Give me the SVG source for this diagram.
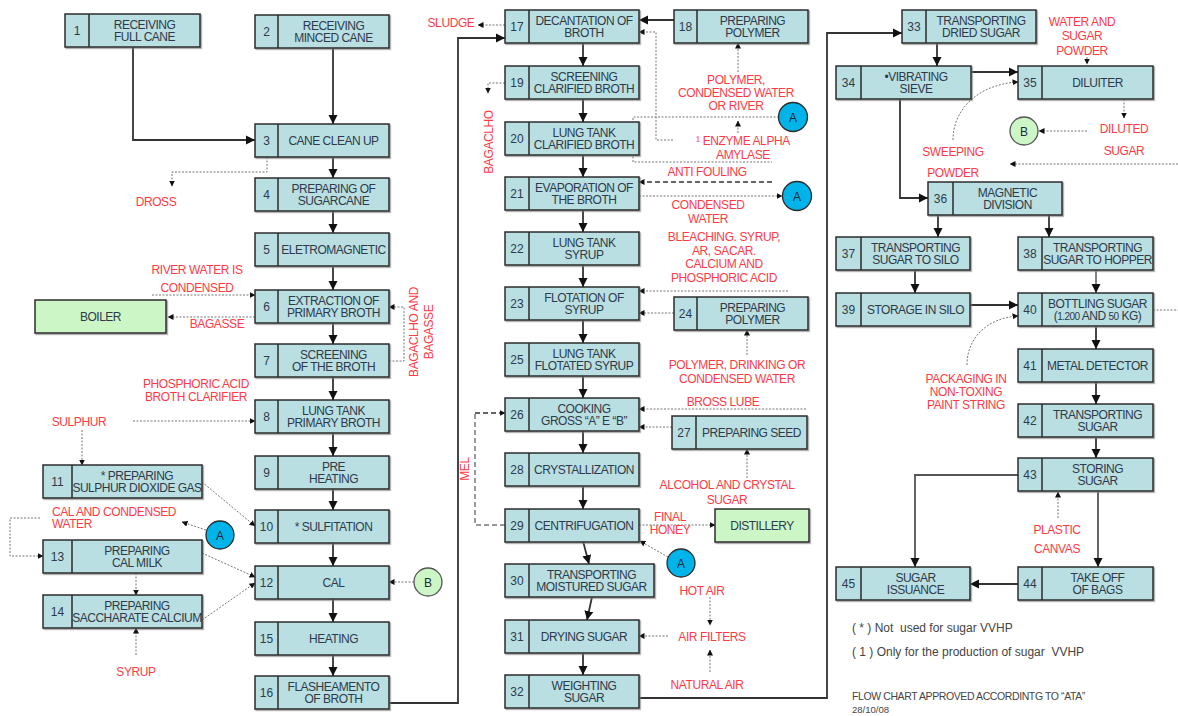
<svg xmlns="http://www.w3.org/2000/svg" width="1178" height="716" viewBox="0 0 1178 716">
<defs>
<marker id="ah" markerUnits="userSpaceOnUse" markerWidth="10" markerHeight="10" refX="9" refY="5" orient="auto"><path d="M0,0.5 L9,5 L0,9.5 z" fill="#111"/></marker>
<marker id="sh" markerUnits="userSpaceOnUse" markerWidth="6" markerHeight="6" refX="5.5" refY="3" orient="auto"><path d="M0,0 L6,3 L0,6 z" fill="#111"/></marker>
<filter id="sd" x="-5%" y="-10%" width="110%" height="130%"><feDropShadow dx="1.2" dy="1.2" stdDeviation="0.6" flood-color="#777" flood-opacity="0.7"/></filter>
<style>
.box{fill:#b9dfe2;stroke:#2b2b2b;stroke-width:1.5;filter:url(#sd)}
.gr{fill:#cdf6c6;stroke:#2b2b2b;stroke-width:1.5;filter:url(#sd)}
.dv{stroke:#2b2b2b;stroke-width:1.5}
text{font-family:"Liberation Sans",Arial,sans-serif}
.t{font-size:12px;fill:#2e3a4a;text-anchor:middle;letter-spacing:-0.5px}
.n{font-size:12px;fill:#2e3a4a;text-anchor:middle}
.r{font-size:12px;fill:#ff3a46;text-anchor:middle;letter-spacing:-0.4px}
.rl{font-size:12px;fill:#ff3a46;letter-spacing:-0.4px}
.lg{font-size:12px;fill:#444;white-space:pre}
.s{stroke:#333;stroke-width:1.8;fill:none;marker-end:url(#ah)}
.d{stroke:#777;stroke-width:1;stroke-dasharray:2 1.5;fill:none;marker-end:url(#sh)}
.d0{stroke:#777;stroke-width:1;stroke-dasharray:2 1.5;fill:none}
.dk{stroke:#333;stroke-width:1.3;stroke-dasharray:5 3;fill:none;marker-end:url(#sh)}
.dg{stroke:#999;stroke-width:2;stroke-dasharray:5 3;fill:none}
.ca{fill:#00b4ea;stroke:#2b2b2b;stroke-width:1.3}
.cb{fill:#cdf6c6;stroke:#555;stroke-width:1.3}
.ct{font-size:12px;fill:#1e2a3a;text-anchor:middle}
</style>
</defs>
<rect width="1178" height="716" fill="#fff"/>

<g id="connectors">
<path class="s" d="M133,47 V140 H255"/>
<path class="s" d="M333,48 V124"/>
<path class="s" d="M333,157 V178"/>
<path class="s" d="M333,211 V233"/>
<path class="s" d="M333,267 V290"/>
<path class="s" d="M333,323 V344"/>
<path class="s" d="M333,377 V400"/>
<path class="s" d="M333,433 V456"/>
<path class="s" d="M333,489 V510"/>
<path class="s" d="M333,543 V566"/>
<path class="s" d="M333,599 V622"/>
<path class="s" d="M333,655 V676"/>
<path class="s" d="M389,703 H458 V38 H505"/>
<path class="s" d="M583,43 V66"/>
<path class="s" d="M583,99 V122"/>
<path class="s" d="M583,155 V177"/>
<path class="s" d="M583,210 V232"/>
<path class="s" d="M583,265 V287"/>
<path class="s" d="M583,320 V343"/>
<path class="s" d="M583,376 V398"/>
<path class="s" d="M583,431 V453"/>
<path class="s" d="M583,486 V509"/>
<path class="s" d="M583,541 L589,564"/>
<path class="s" d="M592,597 L587,620"/>
<path class="s" d="M583,653 V675"/>
<path class="s" d="M674,20 H639"/>
<path class="s" d="M639,698 H827 V33 H902"/>
<path class="s" d="M937,43 V66"/>
<path class="s" d="M971,72 H1018"/>
<path class="s" d="M900,99 V198 H928"/>
<path class="s" d="M938,215 V237"/>
<path class="s" d="M1049,215 V237"/>
<path class="s" d="M915,271 V293"/>
<path class="s" d="M1096,271 V293" style="stroke:#777"/>
<path class="s" d="M970,305 H1018"/>
<path class="s" d="M1096,327 V349"/>
<path class="s" d="M1096,382 V404"/>
<path class="s" d="M1096,438 V458"/>
<path class="s" d="M1018,475 H915 V567" style="stroke:#555"/>
<path class="s" d="M1098,492 V567" style="stroke:#555"/>
<path class="s" d="M1018,584 H970"/>

<path class="d" d="M267,157 V172 H172 V186"/>
<path class="d" d="M152,295 H255"/>
<path class="d" d="M255,317 H168"/>
<path class="d" d="M389,361 H404 V307 H389"/>
<path class="d" d="M133,421 H255"/>
<path class="d" d="M82,430 V465"/>
<path class="d" d="M202,482 L255,526"/>
<path class="d" d="M206,530 L182,522"/>
<path class="d" d="M40,518 H10 V556 H43"/>
<path class="d" d="M202,553 L255,577"/>
<path class="d" d="M202,620 L255,583"/>
<path class="d" d="M136,573 V595"/>
<path class="d" d="M136,655 V628"/>
<path class="d" d="M414,582 H389"/>
<path class="d" d="M505,25 H478"/>
<path class="d" d="M505,83 H488 V93"/>
<path class="d" d="M738,72 V43"/>
<path class="d" d="M673,140 H656 V32 H639"/>
<path class="d0" d="M779,117 H633 V162 H772"/>
<path class="d" d="M738,133 V121"/>
<path class="dk" d="M772,182 H639"/>
<path class="d" d="M639,196 H782"/>
<path class="d" d="M788,291 H639"/>
<path class="d" d="M674,313 H639"/>
<path class="d" d="M747,355 V330"/>
<path class="d" d="M806,409 H639"/>
<path class="d" d="M672,427 H639"/>
<path class="d" d="M747,478 V449"/>
<path class="dg" d="M505,525 H475 V413"/>
<path class="dk" d="M475,413 H505"/>
<path class="d" d="M639,525 H715"/>
<path class="d" d="M668,557 L640,541"/>
<path class="d" d="M710,597 V625"/>
<path class="d" d="M710,672 V650"/>
<path class="d" d="M668,636 H639"/>
<path class="d" d="M1087,57 V64"/>
<path class="d" d="M1124,99 V118"/>
<path class="d" d="M1087,131 H1039"/>
<path class="d" d="M953,140 C953,108 980,84 1018,82"/>
<path class="d" d="M1178,164 H1010"/>
<path class="d0" d="M1153,310 H1178"/>
<path class="d" d="M967,365 C967,338 987,318 1018,316"/>
<path class="d" d="M1058,518 V492"/>
</g>

<g id="n1"><rect class="box" x="65" y="14" width="135" height="33"/><line class="dv" x1="89" y1="14" x2="89" y2="47"/><text class="n" x="77" y="35">1</text><text class="t" x="144.5" y="28.5">RECEIVING</text><text class="t" x="144.5" y="40.5">FULL CANE</text></g>
<g id="n2"><rect class="box" x="255" y="15" width="134" height="33"/><line class="dv" x1="278" y1="15" x2="278" y2="48"/><text class="n" x="266.5" y="36">2</text><text class="t" x="333.5" y="29.5">RECEIVING</text><text class="t" x="333.5" y="41.5">MINCED CANE</text></g>
<g id="n3"><rect class="box" x="255" y="124" width="134" height="33"/><line class="dv" x1="278" y1="124" x2="278" y2="157"/><text class="n" x="266.5" y="145">3</text><text class="t" x="333.5" y="145">CANE CLEAN UP</text></g>
<g id="n4"><rect class="box" x="255" y="178" width="134" height="33"/><line class="dv" x1="278" y1="178" x2="278" y2="211"/><text class="n" x="266.5" y="199">4</text><text class="t" x="333.5" y="192.5">PREPARING OF</text><text class="t" x="333.5" y="204.5">SUGARCANE</text></g>
<g id="n5"><rect class="box" x="255" y="233" width="134" height="33"/><line class="dv" x1="278" y1="233" x2="278" y2="266"/><text class="n" x="266.5" y="254">5</text><text class="t" x="333.5" y="254">ELETROMAGNETIC</text></g>
<g id="n6"><rect class="box" x="255" y="290" width="134" height="33"/><line class="dv" x1="278" y1="290" x2="278" y2="323"/><text class="n" x="266.5" y="311">6</text><text class="t" x="333.5" y="304.5">EXTRACTION OF</text><text class="t" x="333.5" y="316.5">PRIMARY BROTH</text></g>
<g id="n7"><rect class="box" x="255" y="344" width="134" height="33"/><line class="dv" x1="278" y1="344" x2="278" y2="377"/><text class="n" x="266.5" y="365">7</text><text class="t" x="333.5" y="358.5">SCREENING</text><text class="t" x="333.5" y="370.5">OF THE BROTH</text></g>
<g id="n8"><rect class="box" x="255" y="400" width="134" height="33"/><line class="dv" x1="278" y1="400" x2="278" y2="433"/><text class="n" x="266.5" y="421">8</text><text class="t" x="333.5" y="414.5">LUNG TANK</text><text class="t" x="333.5" y="426.5">PRIMARY BROTH</text></g>
<g id="n9"><rect class="box" x="255" y="456" width="134" height="33"/><line class="dv" x1="278" y1="456" x2="278" y2="489"/><text class="n" x="266.5" y="477">9</text><text class="t" x="333.5" y="470.5">PRE</text><text class="t" x="333.5" y="482.5">HEATING</text></g>
<g id="n10"><rect class="box" x="255" y="510" width="134" height="33"/><line class="dv" x1="278" y1="510" x2="278" y2="543"/><text class="n" x="266.5" y="531">10</text><text class="t" x="333.5" y="531">* SULFITATION</text></g>
<g id="n12"><rect class="box" x="255" y="566" width="134" height="33"/><line class="dv" x1="278" y1="566" x2="278" y2="599"/><text class="n" x="266.5" y="587">12</text><text class="t" x="333.5" y="587">CAL</text></g>
<g id="n15"><rect class="box" x="255" y="622" width="134" height="33"/><line class="dv" x1="278" y1="622" x2="278" y2="655"/><text class="n" x="266.5" y="643">15</text><text class="t" x="333.5" y="643">HEATING</text></g>
<g id="n16"><rect class="box" x="255" y="676" width="134" height="33"/><line class="dv" x1="278" y1="676" x2="278" y2="709"/><text class="n" x="266.5" y="697">16</text><text class="t" x="333.5" y="690.5">FLASHEAMENTO</text><text class="t" x="333.5" y="702.5">OF BROTH</text></g>
<g id="n11"><rect class="box" x="43" y="465" width="159" height="33"/><line class="dv" x1="72" y1="465" x2="72" y2="498"/><text class="n" x="57.5" y="486">11</text><text class="t" x="137" y="479.5">* PREPARING</text><text class="t" x="137" y="491.5">SULPHUR DIOXIDE GAS</text></g>
<g id="n13"><rect class="box" x="43" y="540" width="159" height="33"/><line class="dv" x1="72" y1="540" x2="72" y2="573"/><text class="n" x="57.5" y="561">13</text><text class="t" x="137" y="554.5">PREPARING</text><text class="t" x="137" y="566.5">CAL MILK</text></g>
<g id="n14"><rect class="box" x="43" y="595" width="159" height="33"/><line class="dv" x1="72" y1="595" x2="72" y2="628"/><text class="n" x="57.5" y="616">14</text><text class="t" x="137" y="609.5">PREPARING</text><text class="t" x="137" y="621.5">SACCHARATE CALCIUM</text></g>
<g id="boiler"><rect class="gr" x="35" y="300" width="131" height="33"/><text class="t" x="100.5" y="321">BOILER</text></g>

<g id="n17"><rect class="box" x="505" y="10" width="134" height="33"/><line class="dv" x1="529" y1="10" x2="529" y2="43"/><text class="n" x="517" y="31">17</text><text class="t" x="584" y="24.5">DECANTATION OF</text><text class="t" x="584" y="36.5">BROTH</text></g>
<g id="n19"><rect class="box" x="505" y="66" width="134" height="33"/><line class="dv" x1="529" y1="66" x2="529" y2="99"/><text class="n" x="517" y="87">19</text><text class="t" x="584" y="80.5">SCREENING</text><text class="t" x="584" y="92.5">CLARIFIED BROTH</text></g>
<g id="n20"><rect class="box" x="505" y="122" width="134" height="33"/><line class="dv" x1="529" y1="122" x2="529" y2="155"/><text class="n" x="517" y="143">20</text><text class="t" x="584" y="136.5">LUNG TANK</text><text class="t" x="584" y="148.5">CLARIFIED BROTH</text></g>
<g id="n21"><rect class="box" x="505" y="177" width="134" height="33"/><line class="dv" x1="529" y1="177" x2="529" y2="210"/><text class="n" x="517" y="198">21</text><text class="t" x="584" y="191.5">EVAPORATION OF</text><text class="t" x="584" y="203.5">THE BROTH</text></g>
<g id="n22"><rect class="box" x="505" y="232" width="134" height="33"/><line class="dv" x1="529" y1="232" x2="529" y2="265"/><text class="n" x="517" y="253">22</text><text class="t" x="584" y="246.5">LUNG TANK</text><text class="t" x="584" y="258.5">SYRUP</text></g>
<g id="n23"><rect class="box" x="505" y="287" width="134" height="33"/><line class="dv" x1="529" y1="287" x2="529" y2="320"/><text class="n" x="517" y="308">23</text><text class="t" x="584" y="301.5">FLOTATION OF</text><text class="t" x="584" y="313.5">SYRUP</text></g>
<g id="n25"><rect class="box" x="505" y="343" width="134" height="33"/><line class="dv" x1="529" y1="343" x2="529" y2="376"/><text class="n" x="517" y="364">25</text><text class="t" x="584" y="357.5">LUNG TANK</text><text class="t" x="584" y="369.5">FLOTATED SYRUP</text></g>
<g id="n26"><rect class="box" x="505" y="398" width="134" height="33"/><line class="dv" x1="529" y1="398" x2="529" y2="431"/><text class="n" x="517" y="419">26</text><text class="t" x="584" y="412.5">COOKING</text><text class="t" x="584" y="424.5">GROSS “A” E “B”</text></g>
<g id="n28"><rect class="box" x="505" y="453" width="134" height="33"/><line class="dv" x1="529" y1="453" x2="529" y2="486"/><text class="n" x="517" y="474">28</text><text class="t" x="584" y="474">CRYSTALLIZATION</text></g>
<g id="n29"><rect class="box" x="505" y="509" width="134" height="33"/><line class="dv" x1="529" y1="509" x2="529" y2="542"/><text class="n" x="517" y="530">29</text><text class="t" x="584" y="530">CENTRIFUGATION</text></g>
<g id="n30"><rect class="box" x="505" y="564" width="149" height="33"/><line class="dv" x1="529" y1="564" x2="529" y2="597"/><text class="n" x="517" y="585">30</text><text class="t" x="591.5" y="578.5">TRANSPORTING</text><text class="t" x="591.5" y="590.5">MOISTURED SUGAR</text></g>
<g id="n31"><rect class="box" x="505" y="620" width="134" height="33"/><line class="dv" x1="529" y1="620" x2="529" y2="653"/><text class="n" x="517" y="641">31</text><text class="t" x="584" y="641">DRYING SUGAR</text></g>
<g id="n32"><rect class="box" x="505" y="675" width="134" height="33"/><line class="dv" x1="529" y1="675" x2="529" y2="708"/><text class="n" x="517" y="696">32</text><text class="t" x="584" y="689.5">WEIGHTING</text><text class="t" x="584" y="701.5">SUGAR</text></g>
<g id="n18"><rect class="box" x="674" y="10" width="134" height="33"/><line class="dv" x1="697" y1="10" x2="697" y2="43"/><text class="n" x="685.5" y="31">18</text><text class="t" x="752.5" y="24.5">PREPARING</text><text class="t" x="752.5" y="36.5">POLYMER</text></g>
<g id="n24"><rect class="box" x="674" y="297" width="134" height="33"/><line class="dv" x1="697" y1="297" x2="697" y2="330"/><text class="n" x="685.5" y="318">24</text><text class="t" x="752.5" y="311.5">PREPARING</text><text class="t" x="752.5" y="323.5">POLYMER</text></g>
<g id="n27"><rect class="box" x="672" y="416" width="135" height="33"/><line class="dv" x1="696" y1="416" x2="696" y2="449"/><text class="n" x="684" y="437">27</text><text class="t" x="751.5" y="437">PREPARING SEED</text></g>
<g id="distillery"><rect class="gr" x="715" y="509" width="94" height="33"/><text class="t" x="762" y="530">DISTILLERY</text></g>

<g id="n33"><rect class="box" x="902" y="10" width="134" height="33"/><line class="dv" x1="926" y1="10" x2="926" y2="43"/><text class="n" x="914" y="31">33</text><text class="t" x="981" y="24.5">TRANSPORTING</text><text class="t" x="981" y="36.5">DRIED SUGAR</text></g>
<g id="n34"><rect class="box" x="836" y="66" width="135" height="33"/><line class="dv" x1="861" y1="66" x2="861" y2="99"/><text class="n" x="848.5" y="87">34</text><text class="t" x="916" y="80.5">•VIBRATING</text><text class="t" x="916" y="92.5">SIEVE</text></g>
<g id="n35"><rect class="box" x="1018" y="66" width="135" height="33"/><line class="dv" x1="1042" y1="66" x2="1042" y2="99"/><text class="n" x="1030" y="87">35</text><text class="t" x="1097.5" y="87">DILUITER</text></g>
<g id="n36"><rect class="box" x="928" y="182" width="134" height="33"/><line class="dv" x1="953" y1="182" x2="953" y2="215"/><text class="n" x="940.5" y="203">36</text><text class="t" x="1007.5" y="196.5">MAGNETIC</text><text class="t" x="1007.5" y="208.5">DIVISION</text></g>
<g id="n37"><rect class="box" x="836" y="237" width="134" height="33"/><line class="dv" x1="861" y1="237" x2="861" y2="270"/><text class="n" x="848.5" y="258">37</text><text class="t" x="915.5" y="251.5">TRANSPORTING</text><text class="t" x="915.5" y="263.5">SUGAR TO SILO</text></g>
<g id="n38"><rect class="box" x="1018" y="237" width="135" height="33"/><line class="dv" x1="1042" y1="237" x2="1042" y2="270"/><text class="n" x="1030" y="258">38</text><text class="t" x="1097.5" y="251.5">TRANSPORTING</text><text class="t" x="1097.5" y="263.5">SUGAR TO HOPPER</text></g>
<g id="n39"><rect class="box" x="836" y="293" width="134" height="33"/><line class="dv" x1="861" y1="293" x2="861" y2="326"/><text class="n" x="848.5" y="314">39</text><text class="t" x="915.5" y="314">STORAGE IN SILO</text></g>
<g id="n40"><rect class="box" x="1018" y="293" width="135" height="33"/><line class="dv" x1="1042" y1="293" x2="1042" y2="326"/><text class="n" x="1030" y="314">40</text><text class="t" x="1097.5" y="307.5">BOTTLING SUGAR</text><text class="t" x="1097.5" y="319.5">(<tspan font-size="10">1.200</tspan> AND <tspan font-size="10">50</tspan> KG)</text></g>
<g id="n41"><rect class="box" x="1018" y="349" width="135" height="33"/><line class="dv" x1="1042" y1="349" x2="1042" y2="382"/><text class="n" x="1030" y="370">41</text><text class="t" x="1097.5" y="370">METAL DETECTOR</text></g>
<g id="n42"><rect class="box" x="1018" y="404" width="135" height="33"/><line class="dv" x1="1042" y1="404" x2="1042" y2="437"/><text class="n" x="1030" y="425">42</text><text class="t" x="1097.5" y="418.5">TRANSPORTING</text><text class="t" x="1097.5" y="430.5">SUGAR</text></g>
<g id="n43"><rect class="box" x="1018" y="458" width="135" height="33"/><line class="dv" x1="1042" y1="458" x2="1042" y2="491"/><text class="n" x="1030" y="479">43</text><text class="t" x="1097.5" y="472.5">STORING</text><text class="t" x="1097.5" y="484.5">SUGAR</text></g>
<g id="n44"><rect class="box" x="1018" y="567" width="135" height="33"/><line class="dv" x1="1042" y1="567" x2="1042" y2="600"/><text class="n" x="1030" y="588">44</text><text class="t" x="1097.5" y="581.5">TAKE OFF</text><text class="t" x="1097.5" y="593.5">OF BAGS</text></g>
<g id="n45"><rect class="box" x="836" y="567" width="134" height="33"/><line class="dv" x1="861" y1="567" x2="861" y2="600"/><text class="n" x="848.5" y="588">45</text><text class="t" x="915.5" y="581.5">SUGAR</text><text class="t" x="915.5" y="593.5">ISSUANCE</text></g>

<g id="cA1"><circle class="ca" cx="220" cy="535" r="14"/><text class="ct" x="220" y="539.5">A</text></g>
<g id="cA2"><circle class="ca" cx="793" cy="117" r="14.5"/><text class="ct" x="793" y="121.5">A</text></g>
<g id="cA3"><circle class="ca" cx="797" cy="196" r="14.5"/><text class="ct" x="797" y="200.5">A</text></g>
<g id="cA4"><circle class="ca" cx="681" cy="563" r="14"/><text class="ct" x="681" y="567.5">A</text></g>
<g id="cB1"><circle class="cb" cx="428" cy="582" r="14"/><text class="ct" x="428" y="586.5">B</text></g>
<g id="cB2"><circle class="cb" cx="1024" cy="131" r="14"/><text class="ct" x="1024" y="135.5">B</text></g>

<g id="labels">
<text class="r" x="156" y="206">DROSS</text>
<text class="r" x="197" y="274">RIVER WATER IS</text>
<text class="r" x="197" y="292">CONDENSED</text>
<text class="r" x="217" y="328">BAGASSE</text>
<text class="r" x="196" y="388">PHOSPHORIC ACID</text>
<text class="r" x="196" y="401">BROTH CLARIFIER</text>
<text class="r" x="79" y="426">SULPHUR</text>
<text class="rl" x="52" y="516">CAL AND CONDENSED</text>
<text class="rl" x="52" y="528">WATER</text>
<text class="r" x="136" y="676">SYRUP</text>
<text class="r" transform="translate(418,332) rotate(-90)">BAGACLHO  AND</text>
<text class="r" transform="translate(433,332) rotate(-90)">BAGASSE</text>
<text class="r" x="451" y="27">SLUDGE</text>
<text class="r" transform="translate(493,142) rotate(-90)">BAGACLHO</text>
<text class="r" transform="translate(469,469) rotate(-90)">MEL</text>
<text class="r" x="736" y="84">POLYMER,</text>
<text class="r" x="736" y="97">CONDENSED WATER</text>
<text class="r" x="736" y="110">OR RIVER</text>
<text class="r" x="743" y="145">¹ ENZYME ALPHA</text>
<text class="r" x="743" y="159">AMYLASE</text>
<text class="r" x="707" y="176">ANTI FOULING</text>
<text class="r" x="708" y="209">CONDENSED</text>
<text class="r" x="708" y="223">WATER</text>
<text class="r" x="724" y="241">BLEACHING. SYRUP,</text>
<text class="r" x="724" y="255">AR, SACAR.</text>
<text class="r" x="724" y="268">CALCIUM AND</text>
<text class="r" x="724" y="282">PHOSPHORIC ACID</text>
<text class="r" x="737" y="369">POLYMER, DRINKING OR</text>
<text class="r" x="737" y="383">CONDENSED WATER</text>
<text class="r" x="723" y="406">BROSS LUBE</text>
<text class="r" x="727" y="489">ALCOHOL AND CRYSTAL</text>
<text class="r" x="727" y="504">SUGAR</text>
<text class="r" x="670" y="521">FINAL</text>
<text class="r" x="670" y="534">HONEY</text>
<text class="r" x="702" y="595">HOT AIR</text>
<text class="r" x="712" y="641">AIR FILTERS</text>
<text class="r" x="707" y="689">NATURAL AIR</text>
<text class="r" x="1082" y="26">WATER AND</text>
<text class="r" x="1082" y="40">SUGAR</text>
<text class="r" x="1082" y="55">POWDER</text>
<text class="r" x="1124" y="133">DILUTED</text>
<text class="r" x="1124" y="155">SUGAR</text>
<text class="r" x="953" y="156">SWEEPING</text>
<text class="r" x="953" y="177">POWDER</text>
<text class="r" x="966" y="383">PACKAGING IN</text>
<text class="r" x="966" y="396">NON-TOXING</text>
<text class="r" x="966" y="409">PAINT STRING</text>
<text class="r" x="1057" y="534">PLASTIC</text>
<text class="r" x="1057" y="553">CANVAS</text>
</g>

<g id="legend">
<text class="lg" x="852" y="632">( * ) Not  used for sugar VVHP</text>
<text class="lg" x="852" y="656">( 1 ) Only for the production of sugar  VVHP</text>
<text class="lg" x="852" y="700" style="font-size:10.5px;letter-spacing:-0.4px">FLOW CHART APPROVED ACCORDINTG TO “ATA”</text>
<text class="lg" x="852" y="713" style="font-size:9.5px">28/10/08</text>
</g>
</svg>
